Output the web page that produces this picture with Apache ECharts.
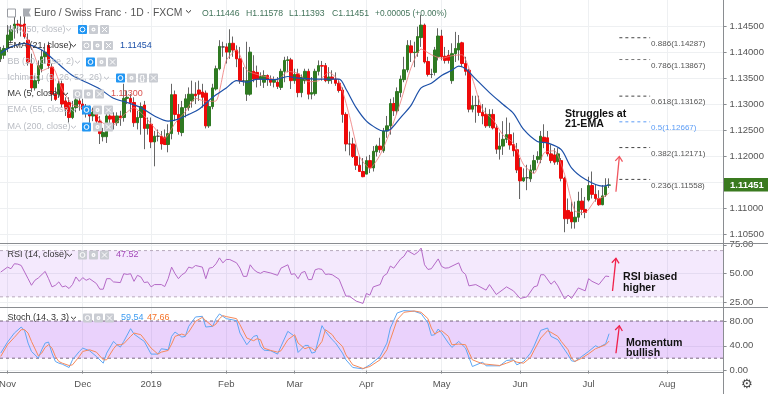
<!DOCTYPE html>
<html><head><meta charset="utf-8">
<style>html,body{margin:0;padding:0;background:#fff}#c{width:768px;height:394px}</style>
<script src="https://cdn.jsdelivr.net/npm/echarts@6/dist/echarts.min.js"></script></head>
<body><div id="c"></div>
<script>
const BASE = 1.1;
const opens = [388,395,408,424,447,455,453,455,424,379,
332,346,369,392,414,372,320,320,340,307,
304,275,294,307,301,291,285,278,285,268,
238,238,278,278,265,278,275,312,312,304,
265,275,299,254,262,228,239,239,237,223,
244,319,281,246,294,294,307,320,328,324,
322,259,296,330,369,411,411,401,418,405,
388,346,320,320,364,362,349,343,356,349,
343,343,333,364,385,386,346,359,323,346,
364,320,321,364,375,375,346,353,349,341,
328,281,224,224,200,183,171,166,192,178,
209,220,211,249,259,302,288,323,348,367,
413,400,400,429,453,383,358,362,392,432,
393,395,346,398,405,419,379,366,291,298,
298,285,281,259,281,255,214,220,233,242,
223,213,179,153,159,157,174,194,194,237,
236,205,203,190,192,158,96,93,74,83,
114,98,116,144,127,119,107,126,144.6];
const closes = [405,408,434,444,455,453,451,431,382,332,
346,375,392,401,375,320,310,340,301,291,
275,294,309,301,291,285,278,285,268,244,
246,278,272,265,278,274,312,314,304,265,
275,296,254,262,228,239,239,224,223,244,
319,281,248,294,311,320,320,317,320,314,
259,296,332,369,412,411,401,418,405,388,
346,346,346,401,349,349,354,356,349,343,
348,335,364,385,386,346,358,323,353,364,
320,323,364,375,374,346,353,349,341,327,
281,224,224,200,183,171,161,192,178,210,
220,213,249,259,302,288,325,349,367,414,
400,401,431,453,382,358,358,405,432,392,
385,385,398,408,418,379,364,291,298,298,
285,278,259,281,255,214,220,233,242,222,
211,174,153,159,159,174,192,200,239,228,
205,192,189,205,158,80,80,74,83,114,
98,92,144,127,119,107,124,142,145.1];
const lows = [382,388,401,418,427,437,431,427,375,324,
327,340,362,379,369,307,307,314,294,278,
265,272,285,288,281,275,265,268,252,224,
229,226,259,252,259,259,267,301,285,257,
252,242,214,242,216,181,229,213,223,208,
233,268,242,239,275,288,294,301,307,294,
254,255,291,327,366,392,379,388,392,372,
340,336,307,317,343,333,336,332,336,336,
333,330,328,343,362,330,340,314,314,340,
310,310,317,356,346,343,340,340,336,323,
265,210,202,197,174,170,160,166,168,171,
200,207,207,236,242,278,281,314,343,362,
382,372,392,411,379,354,351,356,385,385,
379,379,340,382,385,372,356,285,285,265,
278,262,255,255,252,205,194,203,226,213,
200,168,118,151,135,151,168,187,187,216,
200,187,184,184,152,54,70,61,61,74,
87,81,113,119,113,105,106,122,139.3];
const highs = [411,414,453,453,473,463,470,470,437,398,
356,385,405,418,421,379,333,346,346,314,
314,307,320,317,311,301,298,294,291,278,
255,285,285,285,285,288,340,327,320,314,
288,304,307,275,275,249,252,249,252,262,
340,327,301,307,320,333,346,343,346,340,
327,307,340,375,424,421,418,445,431,414,
411,372,421,411,395,375,362,366,358,356,
354,353,369,392,393,390,369,369,358,369,
369,353,369,385,384,380,372,366,362,349,
333,285,248,236,223,200,197,200,203,220,
223,236,255,278,311,314,333,356,392,424,
424,421,450,473,456,392,369,411,447,444,
411,405,418,440,434,421,392,369,317,317,
317,301,294,291,291,262,246,268,275,265,
246,226,197,177,184,184,203,210,249,262,
249,223,216,216,197,161,119,113,113,132,
139,122,161,171,145,135,145,158,157.8];
// Overlay lines: bar index and pips, read at the visible vertices
const emaIdx = [0,3,7,9,12,14,18,21,25,29,33,37,41,45,49,52,55,58,62,66,69,72,75,80,84,87,94,99,101,104,107,110,112,114,117,120,123,126,129,132,134,136,139,143,147,150,153,157,160,164,167,171,176,178];
const emaVal = [399,411,418,414,405,395,372,356,343,330,312,304,294,278,268,272,281,291,314,332,346,343,349,348,354,351,349,349,330,294,268,254,249,252,275,298,332,341,356,366,374,369,349,323,300,283,252,229,226,213,178,156,143,145.4];
const ma5Idx = [6,9,12,15,18,21,24,27,30,33,36,39,42,45,48,51,54,57,60,63,66,69,72,75,78,81,84,87,90,93,96,99,102,105,108,111,114,117,120,123,126,129,132,135,138,141,144,147,150,153,156,159,162,165,168,171,174,177,178];
const ma5Val = [447,410,365,373,329,300,294,288,264,261,280,294,278,255,235,264,286,312,306,307,385,405,366,358,353,347,364,360,344,346,362,345,279,200,177,203,249,305,370,407,396,389,394,396,350,290,271,241,226,184,167,207,211,165,95,92,116,124,130];
// RSI (14, close)
const rsiIdx = [0,2,3,4,5,6,7,8,9,10,11,13,14,15,16,17,18,19,20,21,22,23,24,25,26,28,29,30,31,32,33,35,36,37,38,39,40,41,42,43,44,45,47,48,49,50,51,52,53,54,55,56,57,59,60,61,62,63,64,65,66,67,69,70,71,72,73,74,75,76,77,79,81,82,84,85,86,87,88,89,90,91,92,93,94,95,96,97,99,101,102,104,106,107,108,109,111,112,113,114,115,117,118,119,121,122,123,124,125,126,128,129,130,131,134,135,136,137,139,142,143,145,148,150,152,154,156,157,158,159,161,162,163,165,166,167,169,171,172,173,175,177,178];
const rsiVal = [51.4,55.7,54.3,58.6,58.3,57.1,51.4,45.7,40,44.3,46.3,52,45.7,38.6,40,42.9,38.6,39.4,37.2,40.6,47.2,43.4,46.6,44.3,45.7,41.5,36.6,36.6,45.7,45.7,42.9,42.3,50,49.4,50,43.4,48.6,47.2,42.3,42.9,38.6,40.6,40.6,38.9,45.7,55.7,50,45.7,49.1,50.9,55.7,54.8,57.1,55.7,45.7,54.8,55.4,58.6,63.7,59.4,62.3,62.3,59.4,54.8,47.7,47.7,57.7,53.7,51.4,50.3,52,50.6,48.6,54.8,57.7,49.4,50,45.7,50.9,52,44.9,44.9,53.4,54.3,53.7,49.4,49.7,49.1,45.2,30.6,30.6,26.3,24.3,32.9,31.5,38.6,40.6,48,50,56.6,54.8,62.8,65.1,70,66.5,68.5,72.2,57.7,53.7,54.3,62.8,56.3,54.8,55.1,59.4,52,49.4,39.5,40.6,35.8,40.6,32,38.6,35.2,28.6,30,38.6,39.5,49.1,49.1,40.9,43.7,39.5,28.1,31.5,28.6,37.7,35.2,45.7,43.4,40.6,48,47.52];
// Stoch (14, 3, 3)
const stochIdx = [0,2,4,6,7,8,9,11,12,13,14,15,16,17,18,20,21,23,24,26,28,30,31,33,34,35,36,38,39,41,42,44,46,47,49,50,51,53,54,55,57,59,60,62,63,64,65,66,69,70,72,74,75,
76,77,79,81,82,84,86,87,89,90,91,92,94,95,97,98,100,101,103,106,108,111,113,114,116,118,121,123,125,126,127,128,129,131,132,134,136,138,141,142,146,148,150,
151,153,155,156,158,160,161,163,164,166,167,168,170,172,174,175,177,178];
const stochK = [28.2,46,60.6,70.3,64.4,44.4,30.9,20.1,33.6,44.4,46,28.2,14.7,12,10.4,5,17.4,30.9,36.3,32,22.8,12,28.2,47.1,41.7,37.9,47.1,67.6,59,50.9,47.1,26.6,26.6,35.2,33.6,55.2,62.2,54.1,55.2,71.4,86.5,87.6,70.3,71.4,83.8,91.4,87.6,83.8,80.6,60.6,41.7,55.2,56.8,
39,33,32,26.6,39,63.3,55.2,29.3,40.6,40.6,28.2,29.8,72.5,63.3,49.8,44.4,28.2,17.4,5,2.8,9.3,22.8,44.4,68.7,93,96.8,95.7,91.9,76.8,56.8,57.9,67.1,60.6,44.4,37.4,47.1,36.3,6.6,13.6,7.7,7.7,16.3,17.4,
9.3,14.7,28.2,39,64.9,68.7,55.2,49.8,41.7,25.5,15.8,14.7,22.8,30.9,40.1,37.4,43.3,59.54];
const stochD = [22.8,41.7,53.6,66,66,60.6,47.1,23.9,28.2,37.4,41.7,36.3,22.8,14.7,12,8.2,9.3,22.8,30.9,33.6,29.8,17.4,17.4,35.2,41.7,41.7,43.3,55.2,60.6,57.9,50.9,36.3,26.6,29.8,32.5,42.8,55.2,59,56.8,62.2,79.5,86,80.6,71.4,75.2,83.8,88.7,87.1,83.8,74.1,52.5,48.2,51.4,
49.8,36.3,32.5,29.8,32,49.8,57.9,44.4,35.2,37.4,36.3,32,47.1,66,57.9,49.8,39,25.5,9.3,3.4,6.6,17.4,33.6,49.8,82.2,94.1,96.2,94.1,83.8,68.7,59,62.2,64.4,55.2,41.7,42.8,41.7,17.4,10.9,10.4,8.2,12,16.3,
13.6,12,21.2,32,52.5,64.4,61.7,55.2,47.1,33.6,20.1,14.7,20.1,27.1,35.2,37.4,41.7,47.66];
// Fibonacci levels
const fibRatios = ['0.886','0.786','0.618','0.5','0.382','0.236'];
const fibPrices = [1.14287,1.13867,1.13162,1.12667,1.12171,1.11558];
const fibColors = ['#444','#777','#444','#5b9cf6','#444','#444'];
const fibStart = 181, fibEnd = 190;
// Axis ticks
const barCount = 212;
const monthIdx = [2,24,44,66,86,107,129,152,172,195];
const monthNames = ['Nov','Dec','2019','Feb','Mar','Apr','May','Jun','Jul','Aug'];
const priceTicks = [1.105,1.11,1.115,1.12,1.125,1.13,1.135,1.14,1.145];
const priceLabels = [1.105,1.11,1.12,1.125,1.13,1.135,1.14,1.145];
const rsiTicks = [25,50,75];
const stochTicks = [0,40,80];
const lastPrice = '1.11451';

const categories = Array.from({length:barCount},(_,i)=>{const k=monthIdx.indexOf(i);return k>=0?monthNames[k]:' '+i;});
const px = p=>+(BASE+p/10000).toFixed(5);
const pairs=(a,b,f)=>a.map((x,i)=>[x,f?f(b[i]):b[i]]);
const FONT='"Liberation Sans",Arial,sans-serif';
const GRIDC='#eef0f2', AX='#8a8d91', LBL='#555';
const L=-1, R=44.4;
const isMonth=i=>monthIdx.indexOf(i)>=0;

function xAxis(gi,labels){return {type:'category',gridIndex:gi,data:categories,boundaryGap:true,
  axisLine:{show:false},
  axisTick:{show:labels,alignWithLabel:true,length:3,interval:isMonthFn,lineStyle:{color:AX}},
  axisLabel:{show:labels,interval:isMonthFn,color:LBL,fontSize:9.5,fontFamily:FONT,margin:7,hideOverlap:false,showMinLabel:true,showMaxLabel:true},
  splitLine:{show:true,interval:isMonthFn,alignWithLabel:true,lineStyle:{color:GRIDC,width:1}}};}
function isMonthFn(i){return isMonth(i);}
function yAxis(gi,min,max,ticks,labels,fmt){return {type:'value',gridIndex:gi,position:'right',min,max,scale:true,
  axisLine:{show:false},
  axisTick:{show:true,length:3,customValues:ticks,lineStyle:{color:AX}},
  axisLabel:{show:true,customValues:labels,formatter:v=>v.toFixed(fmt),color:LBL,fontSize:9.5,fontFamily:FONT,margin:6},
  splitLine:{show:true,lineStyle:{color:GRIDC,width:1}}};}

const candleData = opens.map((o,i)=>[px(o),px(closes[i]),px(lows[i]),px(highs[i])]);
const bodyData = opens.map((o,i)=>[px(o),px(closes[i]),px(Math.min(o,closes[i])),px(Math.max(o,closes[i]))]);
const GREEN='#2f7a22', RED='#ee0a0a';

const series=[
 {type:'candlestick',name:'wicks',xAxisIndex:0,yAxisIndex:0,data:candleData,barWidth:1,silent:true,
  itemStyle:{color:'#666',color0:'#666',borderColor:'#666',borderColor0:'#666',borderColorDoji:'#666',borderWidth:1}},
 {type:'candlestick',name:'bodies',xAxisIndex:0,yAxisIndex:0,data:bodyData,barWidth:3,silent:true,
  itemStyle:{color:GREEN,color0:RED,borderColor:GREEN,borderColor0:RED,borderColorDoji:'#444',borderWidth:1}},
 {type:'line',name:'EMA 21',xAxisIndex:0,yAxisIndex:0,data:pairs(emaIdx,emaVal,px),symbol:'none',smooth:0.3,silent:true,z:5,lineStyle:{color:'#1c50a8',width:1.2}},
 {type:'line',name:'MA 5',xAxisIndex:0,yAxisIndex:0,data:pairs(ma5Idx,ma5Val,px),symbol:'none',smooth:0.2,silent:true,z:4,lineStyle:{color:'#ee7777',width:0.8}},
];
fibPrices.forEach((p,i)=>series.push({type:'line',name:'fib'+fibRatios[i],xAxisIndex:0,yAxisIndex:0,
  data:[[fibStart,p],[fibEnd,p]],symbol:'none',silent:true,z:6,
  lineStyle:{color:fibColors[i],width:1,type:[3,3]},
  endLabel:{show:true,formatter:fibRatios[i]+'('+p.toFixed(5)+')',color:fibColors[i]==='#5b9cf6'?'#5b9cf6':'#555',fontSize:8,fontFamily:FONT,offset:[-1,6],distance:2}}));
series.push({type:'line',name:'RSI',xAxisIndex:1,yAxisIndex:1,data:pairs(rsiIdx,rsiVal),symbol:'none',silent:true,z:5,lineStyle:{color:'#b469c6',width:1}});
series.push({type:'line',name:'K',xAxisIndex:2,yAxisIndex:2,data:pairs(stochIdx,stochK),symbol:'none',silent:true,z:5,lineStyle:{color:'#5ea6f3',width:1}});
series.push({type:'line',name:'D',xAxisIndex:2,yAxisIndex:2,data:pairs(stochIdx,stochD),symbol:'none',silent:true,z:6,lineStyle:{color:'#f5895b',width:1}});

const chart=echarts.init(document.getElementById('c'),null,{renderer:'canvas'});
chart.setOption({animation:false,backgroundColor:'#fff',
 grid:[{left:L,right:R,top:0,height:243.3,outerBoundsMode:'none'},{left:L,right:R,top:243.3,height:63.7,outerBoundsMode:'none'},{left:L,right:R,top:307,height:65.7,outerBoundsMode:'none'}],
 xAxis:[xAxis(0,false),xAxis(1,false),xAxis(2,true)],
 yAxis:[yAxis(0,1.10327,1.15014,priceTicks,priceLabels,5),yAxis(1,21.2,76.3,rsiTicks,rsiTicks,2),yAxis(2,-3.4,102.6,stochTicks,stochTicks,2)],
 series});

// ---- chrome: separators, legend rows, tags, annotations
const g=[];
const line=(x1,y1,x2,y2,c,w)=>g.push({type:'line',silent:true,z:50,shape:{x1,y1,x2,y2},style:{stroke:c,lineWidth:w||1}});
const text=(x,y,t,fill,font,o)=>g.push(Object.assign({type:'text',silent:true,z:60,style:{x,y,text:t,fill,font:font||('9px '+FONT),textVerticalAlign:'middle'}},o||{}));
// indicator bands, placed from their values
const bands=[
 {grid:1,lo:30,hi:70,fill:'rgba(150,40,235,0.10)',dash:'#b8aabd'},
 {grid:2,lo:20,hi:80,fill:'rgba(150,30,240,0.20)',dash:'#7c6a80'}];
bands.forEach(b=>{const yHi=chart.convertToPixel({gridIndex:b.grid},[0,b.hi])[1],yLo=chart.convertToPixel({gridIndex:b.grid},[0,b.lo])[1];
  g.push({type:'rect',silent:true,z:1,shape:{x:0,y:yHi,width:723,height:yLo-yHi},style:{fill:b.fill}});
  [yHi,yLo].forEach(y=>g.push({type:'line',silent:true,z:1,shape:{x1:0,y1:y,x2:723,y2:y},style:{stroke:b.dash,lineWidth:1,lineDash:[3,3]}}));});
line(0,243.5,768,243.5,AX);line(0,307.5,768,307.5,AX);line(0,372.5,723.5,372.5,AX);line(723.5,0,723.5,394,AX);

function chevron(x,y,c){g.push({type:'polyline',silent:true,z:60,shape:{points:[[x,y-1.2],[x+2.5,y+1.2],[x+5,y-1.2]]},style:{stroke:c,fill:null,lineWidth:1}});}
function pill(x,y,kind,blue){const c=blue?'#2196f3':'#c9ccd2';
  g.push({type:'rect',silent:true,z:60,shape:{x,y:y-4.5,width:9,height:9,r:1},style:{fill:c}});
  if(kind==='eye'){g.push({type:'circle',silent:true,z:61,shape:{cx:x+4.5,cy:y,r:2.4},style:{fill:null,stroke:'#fff',lineWidth:1}});}
  if(kind==='cog'){g.push({type:'circle',silent:true,z:61,shape:{cx:x+4.5,cy:y,r:2},style:{fill:'#fff'}});g.push({type:'circle',silent:true,z:62,shape:{cx:x+4.5,cy:y,r:0.8},style:{fill:c}});}
  if(kind==='x'){g.push({type:'line',silent:true,z:61,shape:{x1:x+2,y1:y-2.5,x2:x+7,y2:y+2.5},style:{stroke:'#fff',lineWidth:1}});g.push({type:'line',silent:true,z:61,shape:{x1:x+7,y1:y-2.5,x2:x+2,y2:y+2.5},style:{stroke:'#fff',lineWidth:1}});}
  if(kind==='br'){text(x+1.6,y,'{}','#fff','bold 7px '+FONT);}
}
function row(y,label,color,chevX,pillX,blue,extra){text(7.5,y,label,color);chevron(chevX,y,color==='#333'?'#333':'#b9bcc3');
  let x=pillX;pill(x,y,'eye',blue);x+=11;pill(x,y,'cog');x+=11;if(extra){pill(x,y,'br');x+=11;}pill(x,y,'x');}
// title row
g.push({type:'rect',silent:true,z:60,shape:{x:7.5,y:9,width:8,height:8},style:{fill:'#fff',stroke:'#9a9da3',lineWidth:1}});
line(9.5,13,13.5,13,'#9a9da3');
g.push({type:'polygon',silent:true,z:60,shape:{points:[[23,8.5],[31,8.5],[29,12.5],[31,16.5],[23,16.5]]},style:{fill:'#a9acb2'}});
text(34,12.7,'Euro / Swiss Franc · 1D · FXCM','#555','10.4px '+FONT);
chevron(186,11.5,'#333');
const ohlc=[[202,'O1.11446'],[246,'H1.11578'],[289,'L1.11393'],[332,'C1.11451']];
ohlc.forEach(o=>text(o[0],13.4,o[1],'#44755c','8.7px '+FONT));
text(375,13.4,'+0.00005 (+0.00%)','#44755c','8.4px '+FONT);
row(29.5,'MA (50, close)','#b9bcc3',66,78,true);
row(45.5,'EMA (21, close)','#333',71,82,false);text(120,45.5,'1.11454','#1c50a8');
row(62,'BB (20, close, 2)','#b9bcc3',75,86,true);
row(78,'Ichimoku (9, 26, 52, 26)','#b9bcc3',104,116,true,true);
row(94,'MA (5, close)','#333',63,73,false);text(111,94,'1.11300','#d9534f');
row(110,'EMA (55, close)','#b9bcc3',71,82,true);
row(127,'MA (200, close)','#b9bcc3',71,82,true);
row(255,'RSI (14, close)','#333',67,78,false);text(116,255,'47.52','#a348b8');
row(318,'Stoch (14, 3, 3)','#333',71,83,false);text(121,318,'59.54','#3d9bf0');text(147,318,'47.66','#f5752b');
// last price tag
g.push({type:'rect',silent:true,z:60,shape:{x:724,y:178,width:44,height:13.5},style:{fill:'#3a7a1f'}});
text(730,185,lastPrice,'#fff','bold 9.5px '+FONT);
// gear
text(741,384.5,'\u2699','#444','13px "DejaVu Sans"');
// annotations
const B='bold 10.6px '+FONT;
text(565,114,'Struggles at','#111',B);text(565,124.5,'21-EMA','#111',B);
text(623,277,'RSI biased','#111',B);text(623,287.7,'higher','#111',B);
text(626,342.7,'Momentum','#111',B);text(626,353.3,'bullish','#111',B);
// arrows in data coordinates
const arrows=[
 {grid:0,from:[180,1.1132],to:[181,1.1200],c:'#f0565f'},
 {grid:1,from:[179,35],to:[180,63.3],c:'#f0204a'},
 {grid:2,from:[180,28],to:[181,72.3],c:'#f0204a'}];
arrows.forEach(a=>{const p=chart.convertToPixel({gridIndex:a.grid},a.from),q=chart.convertToPixel({gridIndex:a.grid},a.to);
  const ang=Math.atan2(q[1]-p[1],q[0]-p[0]),h=6,sp=0.65;
  line(p[0],p[1],q[0],q[1],a.c,1.3);
  g.push({type:'polyline',silent:true,z:55,shape:{points:[[q[0]-h*Math.cos(ang-sp),q[1]-h*Math.sin(ang-sp)],q,[q[0]-h*Math.cos(ang+sp),q[1]-h*Math.sin(ang+sp)]]},style:{stroke:a.c,fill:null,lineWidth:1.3}});});
chart.setOption({graphic:g});
</script></body></html>
